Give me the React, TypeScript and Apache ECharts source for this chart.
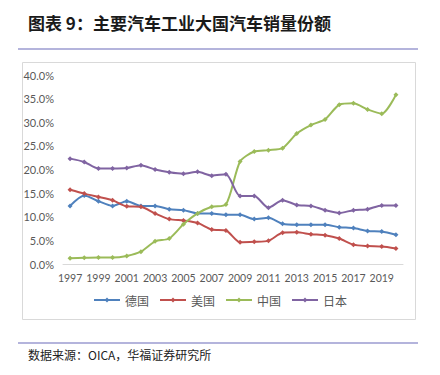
import React, { useEffect, useRef } from "react";
import * as echarts from "echarts";

const years = ["1997","1998","1999","2000","2001","2002","2003","2004","2005","2006","2007","2008","2009","2010","2011","2012","2013","2014","2015","2016","2017","2018","2019","2020"];
const germany = [12.3,14.5,13.3,12.3,13.3,12.3,12.3,11.6,11.4,10.7,10.7,10.4,10.4,9.5,9.8,8.5,8.3,8.3,8.3,7.8,7.6,7.0,6.9,6.2];
const usa = [15.7,14.9,14.2,13.5,12.2,12.1,10.7,9.5,9.2,8.7,7.3,7.1,4.6,4.7,4.9,6.6,6.7,6.3,6.1,5.4,4.1,3.8,3.7,3.3];
const china = [1.2,1.3,1.35,1.35,1.7,2.6,4.8,5.4,8.4,10.7,12.1,12.6,21.7,23.8,24.1,24.5,27.6,29.4,30.6,33.7,34.0,32.7,31.8,35.8];
const japan = [22.3,21.6,20.2,20.2,20.3,20.9,20.0,19.4,19.1,19.5,18.7,19.0,14.4,14.4,11.9,13.5,12.5,12.3,11.4,10.8,11.4,11.6,12.4,12.4];
const seriesNames = ["德国", "美国", "中国", "日本"];
const colors = ["#4f81bd", "#c0504d", "#9bbb59", "#8064a2"];

export default function App() {
  const ref = useRef<HTMLDivElement>(null);
  useEffect(() => {
    if (!ref.current) return;
    const chart = echarts.init(ref.current, null, { renderer: "svg" });
    const data = [germany, usa, china, japan];
    chart.setOption({
      animation: false,
      backgroundColor: "#ffffff",
      graphic: [
        { type: "text", left: 28, top: 14, style: { text: "图表 9：主要汽车工业大国汽车销量份额", fontSize: 17, fontWeight: "bold", fill: "#1a1a1a", fontFamily: "Noto Sans CJK SC" } },
        { type: "line", shape: { x1: 18, y1: 49, x2: 418, y2: 49 }, style: { stroke: "#9b9bd0", lineWidth: 1.5 } },
        { type: "rect", shape: { x: 22.5, y: 62.5, width: 393, height: 257 }, style: { fill: "none", stroke: "#d9d9d9", lineWidth: 1 } },
        { type: "line", shape: { x1: 18, y1: 343, x2: 418, y2: 343 }, style: { stroke: "#9b9bd0", lineWidth: 1.5 } },
        { type: "text", left: 28, top: 348, style: { text: "数据来源：OICA，华福证券研究所", fontSize: 12, fill: "#222", fontFamily: "Noto Sans CJK SC" } },
      ],
      grid: { left: 63, right: 37, top: 75, bottom: 111, containLabel: false },
      xAxis: {
        type: "category",
        data: years,
        boundaryGap: true,
        axisLine: { lineStyle: { color: "#d9d9d9" } },
        axisTick: { interval: 1, length: 5, lineStyle: { color: "#d9d9d9" } },
        axisLabel: { interval: 1, color: "#595959", fontSize: 10.5, fontFamily: "Lato", margin: 8 },
      },
      yAxis: {
        type: "value",
        min: 0,
        max: 40,
        interval: 5,
        splitLine: { show: false },
        axisLine: { show: false },
        axisTick: { show: false },
        axisLabel: { color: "#595959", fontSize: 11, fontFamily: "Lato", margin: 9, formatter: (v: number) => v.toFixed(1) + "%" },
      },
      legend: {
        bottom: 64,
        left: "center",
        itemWidth: 26,
        itemHeight: 6,
        itemGap: 10,
        textStyle: { color: "#595959", fontSize: 12, fontFamily: "Noto Sans CJK SC" },
        data: seriesNames,
      },
      series: seriesNames.map((name, i) => ({
        name,
        type: "line",
        data: data[i],
        smooth: 0.25,
        symbol: "diamond",
        symbolSize: 5,
        showSymbol: true,
        color: colors[i],
        lineStyle: { width: 2, color: colors[i] },
        itemStyle: { color: colors[i] },
      })),
    });
    return () => chart.dispose();
  }, []);
  return <div ref={ref} style={{ position: "fixed", left: 0, top: 0, width: 440, height: 375 }} />;
}
